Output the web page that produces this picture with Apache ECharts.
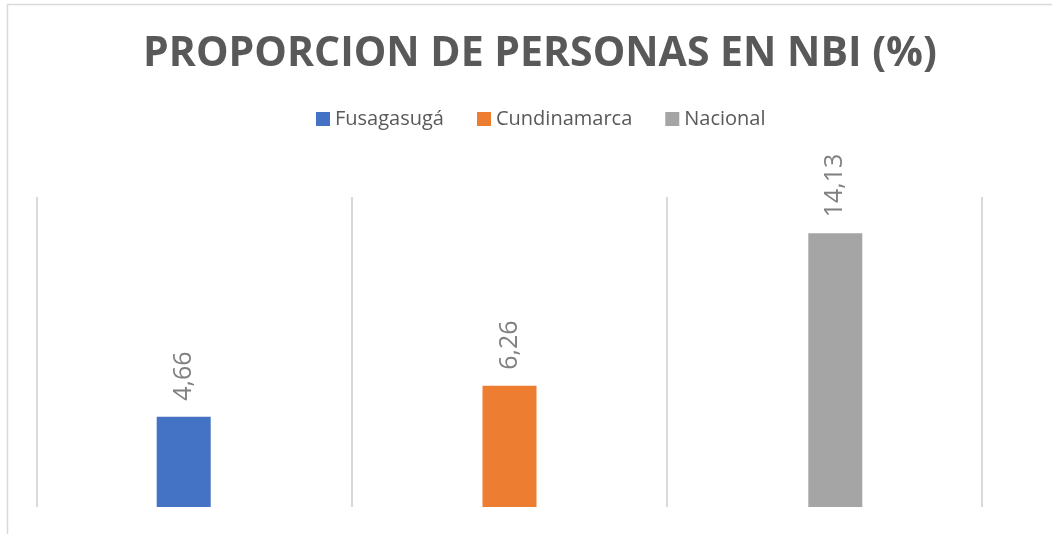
<!DOCTYPE html>
<html>
<head>
<meta charset="utf-8">
<script src="https://cdn.jsdelivr.net/npm/echarts@6/dist/echarts.min.js"></script>
<style>
  html, body { margin: 0; padding: 0; background: #fff; overflow: hidden; }
  #chart { width: 1052px; height: 534px; }
</style>
</head>
<body>
<div id="chart"></div>
<script>
// datos
const categories = ['Fusagasugá', 'Cundinamarca', 'Nacional']
const values = [4.66, 6.26, 14.13]
const colors = ['#4472C4', '#ED7D31', '#A5A5A5']

const chart = echarts.init(document.getElementById('chart'))

// una serie por categoría (columnas agrupadas con solapamiento, como en Excel)
const series = categories.map((name, i) => ({
  name: name,
  type: 'bar',
  barWidth: 54,
  barGap: '-80%',
  data: categories.map((c, j) => (j === i ? values[i] : '-')),
  itemStyle: { color: colors[i] },
  label: {
    show: true,
    position: 'top',
    rotate: 90,
    align: 'left',
    verticalAlign: 'middle',
    distance: 16,
    color: '#808080',
    fontFamily: 'Open Sans',
    fontSize: 25,
    formatter: p => String(p.value).replace('.', ',')
  }
}))

chart.setOption({
  animation: false,
  title: {
    text: 'PROPORCION DE PERSONAS EN NBI (%)',
    left: 535,
    textAlign: 'center',
    top: 29,
    textStyle: {
      color: '#595959',
      fontFamily: 'Open Sans',
      fontWeight: 'bold',
      fontSize: 41
    }
  },
  legend: {
    left: 311,
    top: 104,
    icon: 'rect',
    itemWidth: 14,
    itemHeight: 14,
    itemGap: 33,
    textStyle: { color: '#595959', fontFamily: 'Open Sans', fontSize: 20 },
    data: categories
  },
  graphic: [{
    type: 'rect',
    shape: { x: 7.5, y: 4.5, width: 1100, height: 600 },
    style: { fill: 'none', stroke: '#d9d9d9', lineWidth: 1.5 },
    silent: true
  }],
  grid: { left: 37, right: 70, top: 197, bottom: 27 },
  xAxis: {
    type: 'category',
    data: categories,
    axisLine: { show: false },
    axisTick: { show: false },
    axisLabel: { show: false },
    splitLine: { show: true, lineStyle: { color: '#d9d9d9', width: 2 } }
  },
  yAxis: {
    type: 'value',
    min: 0,
    max: 16,
    show: false,
    splitLine: { show: false }
  },
  series: series
})
</script>
</body>
</html>
